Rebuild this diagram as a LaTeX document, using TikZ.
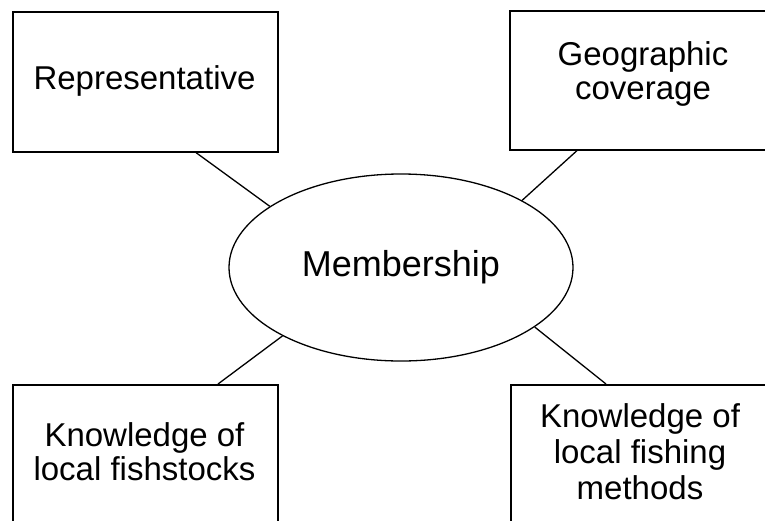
\documentclass[tikz,border=0pt]{standalone}
\usepackage{fontspec}
\setmainfont{Liberation Sans}
\usetikzlibrary{shapes.geometric}
\tikzset{
  boxnode/.style={draw=black, line width=1.6pt, rectangle, inner sep=0pt, anchor=north west},
  lbl/.style={inner sep=0pt, anchor=base, font=\fontsize{33}{35}\selectfont},
  memnode/.style={draw=black, line width=1.3pt, ellipse, inner sep=0pt, minimum width=344pt, minimum height=187pt, font=\fontsize{36}{40}\selectfont},
  conn/.style={draw=black, line width=1.3pt}
}
\begin{document}
\begin{tikzpicture}[x=1pt,y=-1pt]
\useasboundingbox (0,0) rectangle (765,520);
\clip (0,0) rectangle (765,520);
\fill[white] (0,0) rectangle (765,520);
% boxes
\node[boxnode, minimum width=265pt, minimum height=140pt] (b1) at (12,11) {};
\node[boxnode, minimum width=268pt, minimum height=139pt] (b2) at (509,10) {};
\node[boxnode, minimum width=265pt, minimum height=140pt] (b3) at (12,384) {};
\node[boxnode, minimum width=264pt, minimum height=140pt] (b4) at (510,384) {};
% centre
\node[memnode] (mem) at (401,267.5) {Membership};
% texts
\node[lbl] (t1) at (144.5,89) {Representative};
\node[lbl] (t2a) at (643,65) {Geographic};
\node[lbl] (t2b) at (643,99.5) {coverage};
\node[lbl] (t3a) at (144.5,446) {Knowledge of};
\node[lbl] (t3b) at (144.5,480) {local fishstocks};
\node[lbl] (t4a) at (640,427.5) {Knowledge of};
\node[lbl] (t4b) at (640,463) {local fishing};
\node[lbl] (t4c) at (640,499) {methods};
% connectors
\draw[conn] ([xshift=184pt]b1.south west) -- (mem.155.7);
\draw[conn] ([xshift=68pt]b2.south west) -- (mem.29.6);
\draw[conn] ([xshift=206pt]b3.north west) -- (mem.210.4);
\draw[conn] ([xshift=96pt]b4.north west) -- (mem.-24.1);
\end{tikzpicture}
\end{document}
